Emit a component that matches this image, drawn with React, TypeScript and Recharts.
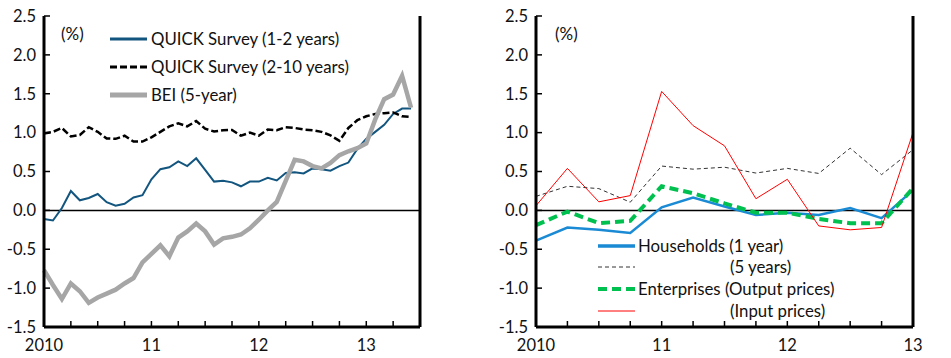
import { LineChart, Line, XAxis, YAxis, ReferenceLine } from 'recharts'

const FONT = 'Lato, "Noto Sans", sans-serif'

// left panel: monthly, index 0 = Jan 2010 ... 41 = Jun 2013
const quickShort = [-0.11, -0.13, 0.03, 0.25, 0.13, 0.16, 0.21, 0.105, 0.06, 0.085, 0.165, 0.195, 0.4, 0.53, 0.555, 0.63, 0.57, 0.67, 0.52, 0.37, 0.38, 0.36, 0.31, 0.37, 0.37, 0.42, 0.385, 0.48, 0.49, 0.475, 0.54, 0.53, 0.51, 0.57, 0.615, 0.79, 0.92, 1.01, 1.1, 1.24, 1.31, 1.31]
const quickLong = [0.99, 1.01, 1.06, 0.95, 0.97, 1.07, 1.01, 0.925, 0.92, 0.96, 0.885, 0.885, 0.94, 1.01, 1.08, 1.12, 1.08, 1.15, 1.05, 1.015, 1.03, 1.035, 0.96, 1.0, 0.96, 1.04, 1.03, 1.07, 1.06, 1.04, 1.03, 1.01, 0.965, 0.895, 1.06, 1.16, 1.21, 1.24, 1.25, 1.26, 1.21, 1.2]
const bei5 = [-0.77, -0.96, -1.14, -0.94, -1.04, -1.19, -1.12, -1.07, -1.02, -0.94, -0.87, -0.67, -0.56, -0.45, -0.59, -0.35, -0.27, -0.17, -0.27, -0.44, -0.36, -0.34, -0.31, -0.23, -0.12, 0.0, 0.11, 0.38, 0.65, 0.63, 0.57, 0.54, 0.61, 0.71, 0.76, 0.8, 0.86, 1.17, 1.43, 1.49, 1.73, 1.32]
const monthTicks = [0, 3, 6, 9, 12, 15, 18, 21, 24, 27, 30, 33, 36, 39, 42]
const monthLabels: Record<number, string> = { 0: '2010', 12: '11', 24: '12', 36: '13' }

// right panel: quarterly, index 0 = 2010 Q1 ... 12 = 2013 Q1
const households1 = [-0.39, -0.22, -0.25, -0.29, 0.04, 0.165, 0.05, -0.06, -0.03, -0.06, 0.03, -0.1, 0.26]
const households5 = [0.18, 0.31, 0.28, 0.105, 0.57, 0.53, 0.555, 0.48, 0.54, 0.475, 0.8, 0.46, 0.78]
const outputPrices = [-0.19, -0.015, -0.165, -0.135, 0.31, 0.22, 0.09, -0.03, -0.03, -0.11, -0.165, -0.165, 0.285]
const inputPrices = [0.06, 0.54, 0.11, 0.19, 1.53, 1.09, 0.83, 0.15, 0.4, -0.2, -0.25, -0.22, 1.0]
const quarterTicks = [0, 1, 2, 3, 4, 5, 6, 7, 8, 9, 10, 11, 12]
const quarterLabels: Record<number, string> = { 0: '2010', 4: '11', 8: '12', 12: '13' }

const yTicks = [-1.5, -1, -0.5, 0, 0.5, 1, 1.5, 2, 2.5]

const monthly = quickShort.map((v, i) => ({ m: i, short: v, long: quickLong[i], bei: bei5[i] }))
const quarterly = households1.map((v, i) => ({
  q: i,
  h1: v,
  h5: households5[i],
  out: outputPrices[i],
  inp: inputPrices[i]
}))

const textStyle = { fontFamily: FONT, fontSize: 16.5, fill: '#111' }

const LeftYTick = ({ x, y, payload }: any) => (
  <g>
    <line x1={x} x2={x + 6} y1={y} y2={y} stroke="#000" strokeWidth={1.5} />
    <text x={x - 8} y={y} dy="0.35em" textAnchor="end" {...textStyle}>
      {payload.value.toFixed(1)}
    </text>
  </g>
)

const RightYTick = ({ x, y, payload }: any) => (
  <g>
    <line x1={x - 6} x2={x} y1={y} y2={y} stroke="#000" strokeWidth={1.5} />
    <text x={x + 8} y={y} dy="0.35em" textAnchor="start" {...textStyle}>
      {payload.value.toFixed(1)}
    </text>
  </g>
)

const makeXTick = (labels: Record<number, string>) => ({ x, y, payload }: any) => (
  <g>
    <line x1={x} x2={x} y1={y} y2={y - 6} stroke="#000" strokeWidth={1.5} />
    {labels[payload.value] && (
      <text x={x} y={y + 24} textAnchor="middle" {...textStyle}>
        {labels[payload.value]}
      </text>
    )}
  </g>
)

const LegendRow = ({ top, left, textLeft, color, width, dash, label }: any) => (
  <div style={{ position: 'absolute', top: top - 12, left, height: 24, width: 400 }}>
    {color && (
      <svg width={37} height={24} style={{ position: 'absolute', left: 0, top: 0 }}>
        <line x1={0} x2={37} y1={12} y2={12} stroke={color} strokeWidth={width} strokeDasharray={dash} />
      </svg>
    )}
    <span
      style={{
        position: 'absolute',
        left: textLeft,
        top: 0,
        lineHeight: '24px',
        fontFamily: FONT,
        fontSize: 16.8,
        color: '#111',
        whiteSpace: 'nowrap'
      }}
    >
      {label}
    </span>
  </div>
)

export default function App() {
  const axisLine = { stroke: '#000', strokeWidth: 3 }
  return (
    <div style={{ position: 'absolute', left: 0, top: 0, width: 951, height: 358, background: '#fff' }}>
      {/* Left panel: QUICK survey and BEI */}
      <div style={{ position: 'absolute', left: 0, top: 0 }}>
        <LineChart width={470} height={358} data={monthly} margin={{ top: 16, right: 0, bottom: 0, left: 0 }}>
          <XAxis
            dataKey="m"
            type="number"
            domain={[0, 42]}
            ticks={monthTicks}
            interval={0}
            height={31}
            tickSize={0}
            tickMargin={0}
            tickLine={false}
            axisLine={axisLine}
            tick={makeXTick(monthLabels)}
          />
          <YAxis yAxisId="l" orientation="left" width={44} domain={[-1.5, 2.5]} ticks={yTicks} interval={0}
            tickSize={0} tickMargin={0} tickLine={false} axisLine={axisLine} tick={<LeftYTick />} />
          <YAxis yAxisId="r" orientation="right" width={50} domain={[-1.5, 2.5]} ticks={yTicks} interval={0}
            tickSize={0} tickMargin={0} tickLine={false} axisLine={axisLine} tick={<RightYTick />} />
          <ReferenceLine yAxisId="l" y={0} stroke="#000" strokeWidth={1.5} />
          <Line yAxisId="l" dataKey="short" stroke="#12557f" strokeWidth={2} dot={false} isAnimationActive={false} />
          <Line yAxisId="l" dataKey="long" stroke="#000" strokeWidth={2.5} strokeDasharray="7 3" dot={false} isAnimationActive={false} />
          <Line yAxisId="l" dataKey="bei" stroke="#a6a6a6" strokeWidth={4.5} dot={false} isAnimationActive={false} />
        </LineChart>
      </div>

      {/* Right panel: households and enterprises */}
      <div style={{ position: 'absolute', left: 470, top: 0 }}>
        <LineChart width={481} height={358} data={quarterly} margin={{ top: 16, right: 0, bottom: 0, left: 0 }}>
          <XAxis
            dataKey="q"
            type="number"
            domain={[0, 12]}
            ticks={quarterTicks}
            interval={0}
            height={31}
            tickSize={0}
            tickMargin={0}
            tickLine={false}
            axisLine={axisLine}
            tick={makeXTick(quarterLabels)}
          />
          <YAxis yAxisId="l" orientation="left" width={66} domain={[-1.5, 2.5]} ticks={yTicks} interval={0}
            tickSize={0} tickMargin={0} tickLine={false} axisLine={axisLine} tick={<LeftYTick />} />
          <YAxis yAxisId="r" orientation="right" width={38} domain={[-1.5, 2.5]} ticks={yTicks} interval={0}
            tickSize={0} tickMargin={0} tickLine={false} axisLine={axisLine} tick={<RightYTick />} />
          <ReferenceLine yAxisId="l" y={0} stroke="#000" strokeWidth={1.5} />
          <Line yAxisId="l" dataKey="h1" stroke="#1a8ad4" strokeWidth={2.5} dot={false} isAnimationActive={false} />
          <Line yAxisId="l" dataKey="h5" stroke="#333" strokeWidth={1} strokeDasharray="4 3" dot={false} isAnimationActive={false} />
          <Line yAxisId="l" dataKey="out" stroke="#00c050" strokeWidth={4} strokeDasharray="9 5" dot={false} isAnimationActive={false} />
          <Line yAxisId="l" dataKey="inp" stroke="#ff0000" strokeWidth={1} dot={false} isAnimationActive={false} />
        </LineChart>
      </div>

      {/* unit labels */}
      <div style={{ position: 'absolute', left: 61, top: 23, fontFamily: FONT, fontSize: 17, color: '#111' }}>(%)</div>
      <div style={{ position: 'absolute', left: 555, top: 23, fontFamily: FONT, fontSize: 17, color: '#111' }}>(%)</div>

      {/* left legend */}
      <LegendRow top={39} left={110} textLeft={41} color="#12557f" width={3} label="QUICK Survey (1-2 years)" />
      <LegendRow top={67} left={110} textLeft={41} color="#000" width={3} dash="7 3" label="QUICK Survey (2-10 years)" />
      <LegendRow top={95} left={110} textLeft={41} color="#a6a6a6" width={5} label="BEI (5-year)" />

      {/* right legend */}
      <LegendRow top={246} left={598} textLeft={40} color="#1a8ad4" width={3.5} label="Households (1 year)" />
      <LegendRow top={267} left={598} textLeft={132} color="#333" width={1} dash="4 3" label="(5 years)" />
      <LegendRow top={289} left={598} textLeft={40} color="#00c050" width={4} dash="9 5" label="Enterprises (Output prices)" />
      <LegendRow top={311} left={598} textLeft={132} color="#ff0000" width={1} label="(Input prices)" />
    </div>
  )
}
